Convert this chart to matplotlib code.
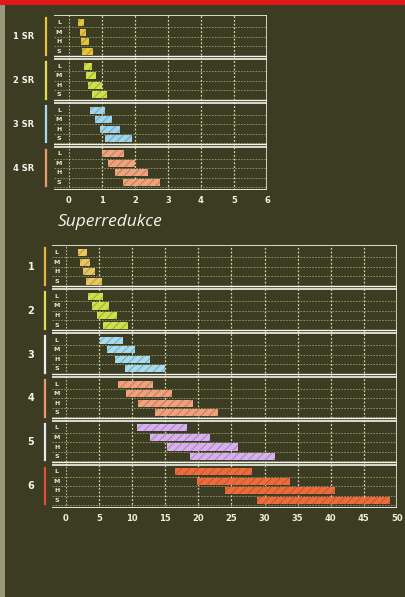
import matplotlib
matplotlib.use("Agg")
import matplotlib.pyplot as plt
from matplotlib.transforms import blended_transform_factory

# ---------------- data ----------------
rows = ["L", "M", "H", "S"]

sr_groups = ["1 SR", "2 SR", "3 SR", "4 SR"]
sr_min = [[0.27, 0.33, 0.36, 0.39],
          [0.45, 0.52, 0.58, 0.70],
          [0.64, 0.79, 0.94, 1.09],
          [1.00, 1.18, 1.39, 1.64]]
sr_max = [[0.45, 0.52, 0.60, 0.73],
          [0.70, 0.82, 1.00, 1.15],
          [1.09, 1.30, 1.55, 1.90],
          [1.67, 2.00, 2.40, 2.75]]
sr_ticks = [0, 1, 2, 3, 4, 5, 6]
sr_ticklabels = ["0", "1", "2", "3", "4", "5", "6"]

main_groups = ["1", "2", "3", "4", "5", "6"]
main_min = [[1.8, 2.1, 2.6, 3.0],
            [3.3, 3.9, 4.7, 5.6],
            [5.1, 6.2, 7.4, 8.9],
            [7.9, 9.0, 10.9, 13.4],
            [10.7, 12.7, 15.3, 18.7],
            [16.5, 19.8, 24.0, 28.9]]
main_max = [[3.2, 3.6, 4.4, 5.4],
            [5.6, 6.5, 7.7, 9.4],
            [8.6, 10.4, 12.7, 15.0],
            [13.1, 16.0, 19.2, 23.0],
            [18.3, 21.8, 26.0, 31.6],
            [28.1, 33.8, 40.6, 49.0]]
main_ticks = [0, 5, 10, 15, 20, 25, 30, 35, 40, 45, 50]
main_ticklabels = ["0", "5", "10", "15", "20", "25", "30", "35", "40", "45", "50"]

title = "Superredukce"

# ---------------- style ----------------
BG = "#3b3c21"
sr_colors = ["#e8c23a", "#cfe04a", "#9fd4ef", "#f2a27e"]
sr_side = ["#e8c23a", "#e3dc5a", "#a9d6ee", "#e89a70"]
main_colors = ["#ebc660", "#cfe04a", "#a6dcf2", "#f2a07e", "#d8b0f2", "#f26a3c"]
main_side = ["#e8b640", "#e3dc5a", "#e8eef0", "#e89a70", "#e8e4f2", "#e0503a"]

GH = 4.6   # group block height in row units
PAD = 0.3

fig = plt.figure(figsize=(4.06, 5.97), dpi=100, facecolor=BG)

# red strip at top and pale left border
fig.patches.append(plt.Rectangle((0, 1 - 5 / 597), 1, 5 / 597, transform=fig.transFigure,
                                 facecolor="#e01818", edgecolor="none", zorder=0))
fig.patches.append(plt.Rectangle((0, 0), 5 / 406, 1 - 5 / 597, transform=fig.transFigure,
                                 facecolor="#9a9878", edgecolor="none", zorder=0))


def draw_panel(ax, groups, mins, maxs, colors, side, ticks, ticklabels, xmin, xmax,
               label_x, side_x, group_label_x, group_fs):
    ax.set_facecolor(BG)
    n = len(groups)
    ax.set_xlim(xmin, xmax)
    ax.set_ylim(n * GH, 0)
    for s in ax.spines.values():
        s.set_visible(False)
    # vertical grid
    for t in ticks[1:]:
        ax.axvline(t, color="#f2f0c8", lw=0.9, ls=(0, (1.5, 1.5)), alpha=0.85, zorder=1)
    ax.axvline(ticks[-1], color="#f4f4e8", lw=1.1, zorder=1)
    ax.axvline(0, color="#f2f0c8", lw=0.8, ls=(0, (1.5, 1.5)), alpha=0.7, zorder=1)
    trans_fig = blended_transform_factory(fig.transFigure, ax.transData)
    for g in range(n):
        y0 = g * GH
        # group boundary double lines
        ax.axhline(y0 + 0.05, color="#f4f4ea", lw=1.2, zorder=2)
        if g > 0:
            ax.axhline(y0 - 0.25, color="#f4f4ea", lw=1.0, zorder=2)
        for r in range(4):
            yc = y0 + PAD + r + 0.5
            ax.axhline(yc + 0.5, color="#cfe0a0", lw=0.6, ls=(0, (2, 1.5)), alpha=0.6, zorder=1)
            ax.barh(yc, maxs[g][r] - mins[g][r], left=mins[g][r], height=0.74,
                    color=colors[g], edgecolor="none", zorder=3)
            ax.barh(yc, maxs[g][r] - mins[g][r], left=mins[g][r], height=0.74,
                    color="none", edgecolor=BG, hatch="////", lw=0, alpha=0.25, zorder=4)
            ax.text(label_x, yc, rows[r], color="#e8ecd8", fontsize=4.5, fontweight="bold",
                    ha="center", va="center", zorder=5)
        # colored bracket at left of each group
        ax.plot([side_x, side_x], [y0 + 0.35, y0 + GH - 0.4], color=side[g], lw=1.6,
                transform=trans_fig, clip_on=False, zorder=5)
        ax.text(group_label_x, y0 + GH / 2, groups[g], color="#f4f4ee", fontsize=group_fs,
                fontweight="bold", ha="center", va="center", transform=trans_fig)
    ax.axhline(n * GH - 0.05, color="#f4f4ea", lw=1.3, zorder=2)
    ax.set_yticks([])
    ax.set_xticks(ticks)
    ax.set_xticklabels(ticklabels)
    ax.tick_params(axis="x", length=0, pad=4, labelsize=6, labelcolor="#f2f0d8")
    for lbl in ax.get_xticklabels():
        lbl.set_fontweight("bold")


ax1 = fig.add_axes([54 / 406, 1 - 190 / 597, 213 / 406, 175 / 597])
draw_panel(ax1, sr_groups, sr_min, sr_max, sr_colors, sr_side, sr_ticks, sr_ticklabels,
           -0.45, 6.0, -0.3, 46 / 406, 24 / 406, 6.0)

ax2 = fig.add_axes([52 / 406, 1 - 508 / 597, 345 / 406, 263 / 597])
draw_panel(ax2, main_groups, main_min, main_max, main_colors, main_side, main_ticks,
           main_ticklabels, -2.1, 50.0, -1.4, 45 / 406, 31 / 406, 7.0)

fig.text(58 / 406, 1 - 222 / 597, title, color="#f4f4ee", fontsize=12.5, family="Open Sans",
         fontstyle="italic", ha="left", va="center")

fig.savefig("out.png", dpi=100, facecolor=BG)
